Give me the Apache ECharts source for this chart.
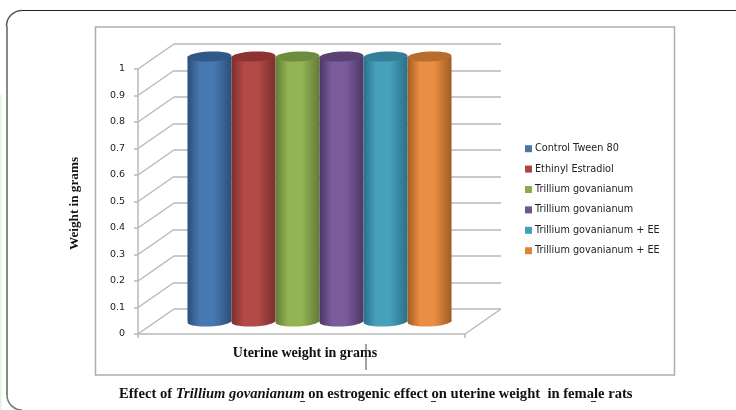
<!DOCTYPE html>
<html><head><meta charset="utf-8">
<script src="https://cdn.jsdelivr.net/npm/echarts@6/dist/echarts.min.js"></script>
<style>html,body{margin:0;padding:0;background:#fff}#c{width:736px;height:410px}</style>
</head><body><div id="c"></div>
<script>
var categories = ['Uterine weight in grams'];
var seriesNames = ['Control Tween 80','Ethinyl Estradiol','Trillium govanianum','Trillium govanianum','Trillium govanianum + EE','Trillium govanianum + EE'];
var seriesValues = [1,1,1,1,1,1];
var yTicks = [0,0.1,0.2,0.3,0.4,0.5,0.6,0.7,0.8,0.9,1];
var legendColors = ['#4a76a8','#ab4644','#8cab50','#70558f','#41a0ba','#dd8537'];
var edgeColors = ['#2b4f78','#7c2f2d','#637c36','#4b3766','#28708a','#a05c24'];
var midColors = ['#4878b0','#b24a48','#94b354','#7a5c9a','#46a0bb','#ea8e43'];
var topColors = ['#30598a','#8d3432','#6e8b3e','#5a4274','#337f97','#b66d2e'];
var DX = 36, DY = -25, LINE = '#b9b9b9';

var chart = echarts.init(document.getElementById('c'));
function cyl(i){
  return function(params, api){
    var n = seriesNames.length;
    var band = api.size([1,0])[0];
    var bw = band * 0.8075 / n;
    var top = api.coord([0, api.value(0)]);
    var base = api.coord([0, 0]);
    var x = top[0] + DX/2 + (i - n/2) * bw;
    var yt = top[1] + DY/2, yb = base[1] + DY/2, ry = 5;
    var tilt = 0.05;
    var fill = new echarts.graphic.LinearGradient(0,0,1,0,[
      {offset:0,color:edgeColors[i]},{offset:0.28,color:midColors[i]},
      {offset:0.6,color:midColors[i]},{offset:1,color:edgeColors[i]}]);
    return {type:'group',children:[
      {type:'ellipse',shape:{cx:x+bw/2,cy:yb,rx:bw/2,ry:ry},rotation:tilt,originX:x+bw/2,originY:yb,style:{fill:fill}},
      {type:'rect',shape:{x:x,y:yt,width:bw,height:yb-yt},style:{fill:fill}},
      {type:'ellipse',shape:{cx:x+bw/2,cy:yt,rx:bw/2,ry:ry},rotation:tilt,originX:x+bw/2,originY:yt,style:{fill:topColors[i]}}
    ]};
  };
}
var series = [
  {type:'custom',coordinateSystem:'cartesian2d',xAxisIndex:0,yAxisIndex:0,silent:true,z:1,
   data:yTicks.map(function(v){return [v];}),
   encode:{y:0},
   renderItem:function(params,api){
     var p = api.coord([0,api.value(0)]);
     var cs = params.coordSys, left = cs.x, right = cs.x+cs.width;
     var st = {stroke:LINE,lineWidth:1.5,fill:'none'};
     var ch = [{type:'line',shape:{x1:left,y1:p[1],x2:left+DX,y2:p[1]+DY},style:st}];
     if (api.value(0)===0) {
       ch.push({type:'line',shape:{x1:right,y1:p[1],x2:right+DX,y2:p[1]+DY},style:st});
     }
     return {type:'group',children:ch};
   }}
];
seriesNames.forEach(function(nm,i){
  series.push({type:'custom',name:'s'+i,coordinateSystem:'cartesian2d',xAxisIndex:0,yAxisIndex:0,silent:true,z:3+i,
    itemStyle:{color:legendColors[i]},
    data:[[seriesValues[i]]],encode:{y:0},renderItem:cyl(i)});
});
chart.setOption({
  animation:false,backgroundColor:'#fff',
  title:{left:119,top:387,padding:0,
    text:'{b|Effect of }{i|Trillium govanianum}{b| on estrogenic effect on uterine weight  in female rats}',
    textStyle:{rich:{
      b:{fontFamily:'Liberation Serif',fontWeight:'bold',fontSize:14.6,color:'#111'},
      i:{fontFamily:'Liberation Serif',fontWeight:'bold',fontStyle:'italic',fontSize:14.6,color:'#111'}}}},
  legend:{orient:'vertical',left:525,top:143,padding:0,itemWidth:7,itemHeight:7,itemGap:9,icon:'rect',
    data:seriesNames.map(function(_,i){return 's'+i;}),
    formatter:function(n){return seriesNames[+n.slice(1)];},
    textStyle:{fontFamily:'DejaVu Sans',fontSize:9.7,color:'#222',padding:[0,0,0,-2],lineHeight:11.4},selectedMode:false},
  grid:[
    {left:138,width:327,top:69,height:265,containLabel:false},
    {left:174,width:327,top:44,height:265}
  ],
  xAxis:[
    {gridIndex:0,type:'category',data:categories,boundaryGap:true,
     axisLine:{show:true,onZero:false,lineStyle:{color:LINE,width:1.5}},
     axisTick:{show:true,alignWithLabel:false,length:4,lineStyle:{color:LINE,width:1.5}},
     axisLabel:{show:false},name:categories[0],nameLocation:'middle',nameGap:12,
     nameTextStyle:{fontFamily:'Liberation Serif',fontWeight:'bold',fontSize:14,color:'#111',padding:[0,0,0,7]}},
    {gridIndex:1,type:'category',data:categories,show:false}
  ],
  yAxis:[
    {gridIndex:0,type:'value',min:0,max:1,interval:0.1,
     axisLine:{show:true,lineStyle:{color:LINE,width:1.5}},
     axisTick:{show:true,length:4,lineStyle:{color:LINE,width:1.5}},
     splitLine:{show:false},
     axisLabel:{fontFamily:'DejaVu Sans',fontSize:9.5,color:'#222',margin:13,padding:[5,0,0,0],formatter:function(v){return String(+v.toFixed(1));}},
     name:'Weight in grams',nameLocation:'middle',nameGap:57,nameRotate:90,
     nameTextStyle:{fontFamily:'Liberation Serif',fontWeight:'bold',fontSize:13.2,color:'#111',padding:[0,4,0,0]}},
    {gridIndex:1,type:'value',min:0,max:1,interval:0.1,
     axisLine:{show:false},axisTick:{show:false},axisLabel:{show:false},
     splitLine:{show:true,lineStyle:{color:LINE,width:1.5}}}
  ],
  graphic:[
    {type:'rect',z:-10,shape:{x:95.5,y:27,width:579,height:348},style:{fill:'#fff',stroke:'#adadad',lineWidth:1.5}},
    {type:'line',z:-10,shape:{x1:22,y1:10.5,x2:736,y2:10.5},style:{stroke:'#222',lineWidth:1}},
    {type:'line',z:-10,shape:{x1:7,y1:26,x2:7,y2:395},style:{stroke:'#888',lineWidth:2}},
    {type:'arc',z:-10,shape:{cx:22,cy:26,r:15.5,startAngle:Math.PI,endAngle:Math.PI*1.5},style:{stroke:'#555',lineWidth:1.5,fill:'none'}},
    {type:'arc',z:-10,shape:{cx:22,cy:395,r:15,startAngle:Math.PI/2,endAngle:Math.PI,clockwise:true},style:{stroke:'#777',lineWidth:1.5,fill:'none'}},
    {type:'rect',z:-11,shape:{x:0,y:95,width:1.5,height:315},style:{fill:'#dff5dc'}},
    {type:'line',z:20,shape:{x1:366,y1:344,x2:366,y2:370},style:{stroke:'#444',lineWidth:1}},
    {type:'line',z:20,shape:{x1:300,y1:401.5,x2:305,y2:401.5},style:{stroke:'#333',lineWidth:1}},
    {type:'line',z:20,shape:{x1:431,y1:401.5,x2:436,y2:401.5},style:{stroke:'#333',lineWidth:1}},
    {type:'line',z:20,shape:{x1:591,y1:401.5,x2:596,y2:401.5},style:{stroke:'#333',lineWidth:1}}
  ],
  series:series
});
</script></body></html>
